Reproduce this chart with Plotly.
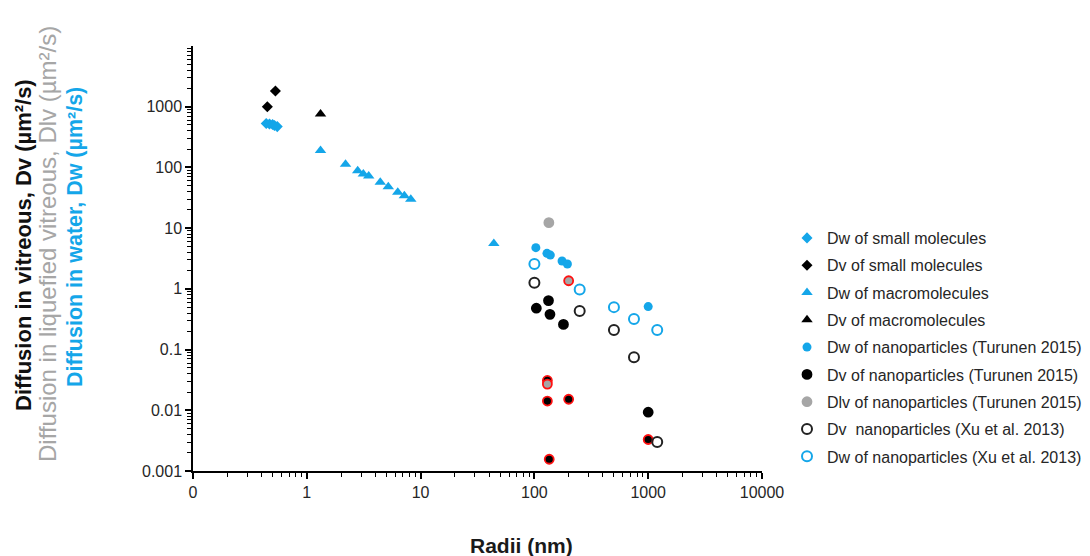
import plotly.graph_objects as go

# ---------------- data ----------------
sm_dw_r = [0.44, 0.47, 0.50, 0.52, 0.55]
sm_dw_d = [530, 520, 510, 490, 470]
sm_dv_r = [0.45, 0.53]
sm_dv_d = [1000, 1820]
mm_dw_r = [1.32, 2.19, 2.8, 3.14, 3.5, 4.42, 5.2, 6.3, 7.2, 8.2, 44]
mm_dw_d = [190, 113, 88, 78, 72, 57, 48, 39, 34, 30, 5.6]
mm_dv_r = [1.32]
mm_dv_d = [760]
tu_dw_r = [103, 129, 138, 175, 195, 1000]
tu_dw_d = [4.77, 3.85, 3.6, 2.88, 2.57, 0.51]
tu_dv_r = [104, 133, 137, 180, 1000, 130, 130, 200, 1000, 135]
tu_dv_d = [0.48, 0.64, 0.38, 0.26, 0.0093, 0.031, 0.0142, 0.0152, 0.0033, 0.00156]
tu_dv_flag = [False, False, False, False, False, True, True, True, True, True]
tu_dlv_r = [134, 200, 130]
tu_dlv_d = [12.3, 1.36, 0.027]
tu_dlv_flag = [False, True, True]
xu_dv_r = [100, 250, 500, 750, 1200]
xu_dv_d = [1.26, 0.43, 0.21, 0.075, 0.003]
xu_dw_r = [100, 250, 500, 750, 1200]
xu_dw_d = [2.57, 0.98, 0.50, 0.32, 0.21]

x_tickvals = [0.1, 1, 10, 100, 1000, 10000]
x_ticktext = ["0", "1", "10", "100", "1000", "10000"]
y_tickvals = [0.001, 0.01, 0.1, 1, 10, 100, 1000]
y_ticktext = ["0.001", "0.01", "0.1", "1", "10", "100", "1000"]

# ---------------- styling ----------------
BLUE = "#14A6E9"
GREY = "#A6A6A6"
RED = "#FF1010"
FONT = "Liberation Sans, Arial, sans-serif"

fig = go.Figure()


def add(name, x, y, symbol, color, size, line_color=None, line_width=0):
    fig.add_trace(go.Scatter(
        x=x, y=y, mode="markers", name=name, legendgroup=name,
        marker=dict(symbol=symbol, color=color, size=size,
                    line=dict(color=line_color if line_color is not None else color,
                              width=line_width)),
    ))


add("Dw of small molecules", sm_dw_r, sm_dw_d, "diamond", BLUE, 8.5)
add("Dv of small molecules", sm_dv_r, sm_dv_d, "diamond", "black", 8.5)
add("Dw of macromolecules", mm_dw_r, mm_dw_d, "triangle-up", BLUE, 10)
add("Dv of macromolecules", mm_dv_r, mm_dv_d, "triangle-up", "black", 10)
add("Dw of nanoparticles (Turunen 2015)", tu_dw_r, tu_dw_d, "circle", BLUE, 9)
add("Dv of nanoparticles (Turunen 2015)", tu_dv_r, tu_dv_d, "circle", "black", 9,
    line_color=[RED if f else "black" for f in tu_dv_flag], line_width=1.8)
add("Dlv of nanoparticles (Turunen 2015)", tu_dlv_r, tu_dlv_d, "circle", GREY, 9,
    line_color=[RED if f else GREY for f in tu_dlv_flag], line_width=1.8)
add("Dv  nanoparticles (Xu et al. 2013)", xu_dv_r, xu_dv_d, "circle-open", "#222222", 10,
    line_width=2)
add("Dw of nanoparticles (Xu et al. 2013)", xu_dw_r, xu_dw_d, "circle-open", BLUE, 10,
    line_width=2)

# minor tick positions (2..9 of each decade)
x_minor = [m * 10 ** e for e in range(-1, 4) for m in range(2, 10)]
y_minor = [m * 10 ** e for e in range(-3, 4) for m in range(2, 10)]

# page has an 8px body margin: figure coordinates = page coordinates - 8
OFF = 8
W, H = 1090 - OFF, 556 - OFF
L, T = 193 - OFF, 46 - OFF
pw, ph = 569, 425
R = W - L - pw
B = H - T - ph


def px(xp):
    return (xp - OFF - L) / pw


def py(yp):
    return (T + ph - (yp - OFF)) / ph


fig.update_layout(
    width=W, height=H,
    margin=dict(l=L, r=R, t=T, b=B, autoexpand=False),
    paper_bgcolor="white", plot_bgcolor="white",
    font=dict(family=FONT, size=16, color="#262626"),
    showlegend=True,
    legend=dict(x=px(787), y=py(221), xanchor="left", yanchor="top",
                font=dict(size=16, color="#262626"),
                tracegroupgap=3.5, bgcolor="rgba(0,0,0,0)"),
    xaxis=dict(type="log", range=[-1, 4], tickmode="array", automargin=False,
               tickvals=x_tickvals, ticktext=x_ticktext,
               showline=True, linecolor="black", linewidth=1.5,
               ticks="outside", ticklen=6, tickwidth=1.5, tickcolor="black",
               showgrid=False, zeroline=False,
               minor=dict(tickvals=x_minor, ticks="outside", ticklen=4,
                          tickwidth=1, tickcolor="black", showgrid=False),
               tickfont=dict(size=16, color="#262626")),
    yaxis=dict(type="log", range=[-3, 4], tickmode="array", automargin=False,
               tickvals=y_tickvals, ticktext=y_ticktext,
               showline=True, linecolor="black", linewidth=1.5,
               ticks="outside", ticklen=6, tickwidth=1.5, tickcolor="black",
               showgrid=False, zeroline=False,
               minor=dict(tickvals=y_minor, ticks="outside", ticklen=4,
                          tickwidth=1, tickcolor="black", showgrid=False),
               tickfont=dict(size=16, color="#262626")),
)

# axis titles
fig.add_annotation(text="<b>Radii (nm)</b>", xref="paper", yref="paper",
                   x=px(521), y=py(545), xanchor="center", yanchor="middle",
                   showarrow=False, font=dict(size=21, color="#1a1a1a"))
fig.add_annotation(text="<b>Diffusion in vitreous, Dv (µm²/s)</b>", xref="paper", yref="paper",
                   x=px(23), y=py(245), xanchor="center", yanchor="middle",
                   textangle=-90, showarrow=False,
                   font=dict(size=22, color="#111111"))
fig.add_annotation(text="Diffusion in liquefied vitreous, Dlv (µm²/s)", xref="paper", yref="paper",
                   x=px(47), y=py(244), xanchor="center", yanchor="middle",
                   textangle=-90, showarrow=False,
                   font=dict(size=24, color=GREY))
fig.add_annotation(text="<b>Diffusion in water, Dw (µm²/s)</b>", xref="paper", yref="paper",
                   x=px(75), y=py(237), xanchor="center", yanchor="middle",
                   textangle=-90, showarrow=False,
                   font=dict(size=21.5, color=BLUE))

fig.write_html("out.html")
